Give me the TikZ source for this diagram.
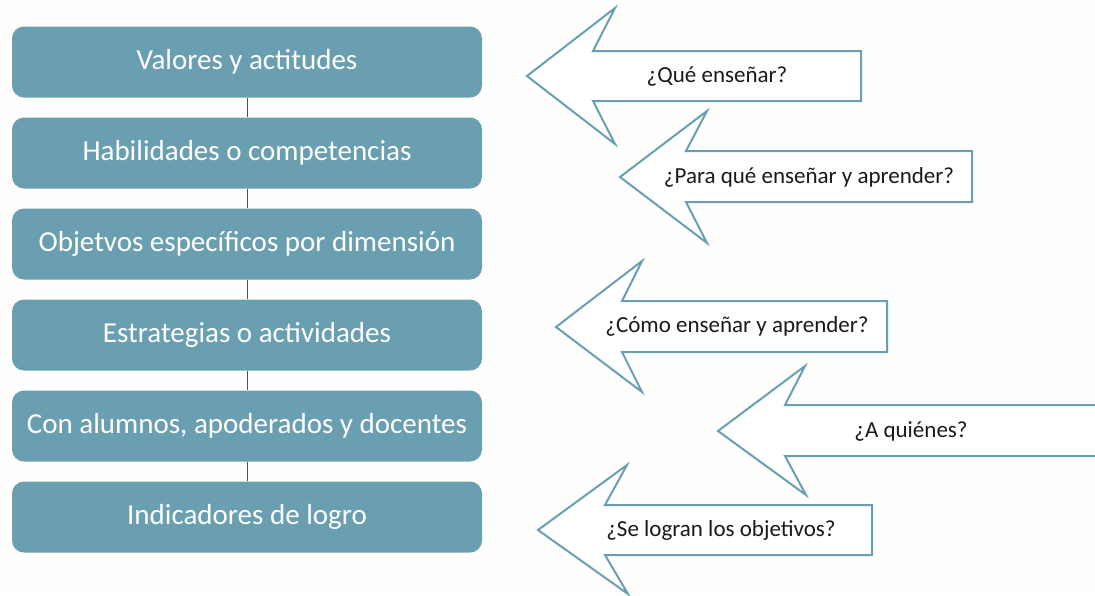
\documentclass[tikz,border=0pt]{standalone}
\usepackage{fontspec}
\setmainfont{Carlito}
\definecolor{boxblue}{HTML}{6A9FB2}
\definecolor{bg}{HTML}{FEFEFC}
\definecolor{linegray}{HTML}{505050}
\definecolor{txt}{HTML}{1A1A1A}
\begin{document}
\begin{tikzpicture}[x=1pt,y=-1pt,
  stepbox/.style={rectangle, rounded corners=12pt, fill=boxblue, draw=none,
    minimum width=470pt, minimum height=71pt, inner sep=0pt,
    text=white, font=\fontsize{29}{34}\selectfont},
  arrowshape/.style={draw=boxblue, line width=2pt, fill=white, line join=miter},
  question/.style={text=txt, font=\fontsize{23}{27}\selectfont, inner sep=0pt},
  link/.style={draw=linegray, line width=1pt}]
\fill[bg] (0,0) rectangle (1095,595);
\useasboundingbox (0,0) rectangle (1095,595);

% boxes
\node[stepbox] (b1) at (247,62)  {Valores y actitudes};
\node[stepbox] (b2) at (247,153) {Habilidades o competencias};
\node[stepbox] (b3) at (247,244) {Objetvos específicos por dimensión};
\node[stepbox] (b4) at (247,335) {Estrategias o actividades};
\node[stepbox] (b5) at (247,426) {Con alumnos, apoderados y docentes};
\node[stepbox] (b6) at (247,517) {Indicadores de logro};

\draw[link] (b1.south) -- (b2.north);
\draw[link] (b2.south) -- (b3.north);
\draw[link] (b3.south) -- (b4.north);
\draw[link] (b4.south) -- (b5.north);
\draw[link] (b5.south) -- (b6.north);

% arrows
\draw[arrowshape] (527,76) -- (615,8) -- (593,51) -- (861,51) -- (861,101) -- (593,101) -- (615,144) -- cycle;
\node[question] (q1) at (717,77) {¿Qué enseñar?};

\draw[arrowshape] (620,177) -- (707,111) -- (686,151) -- (972,151) -- (972,202) -- (686,202) -- (707,243) -- cycle;
\node[question] (q2) at (809,177) {¿Para qué enseñar y aprender?};

\draw[arrowshape] (556,327) -- (642,261) -- (622,301) -- (887,301) -- (887,352) -- (622,352) -- (642,392) -- cycle;
\node[question] (q3) at (737,326) {¿Cómo enseñar y aprender?};

\draw[arrowshape] (718,431) -- (805,366) -- (785,405) -- (1100,405) -- (1100,456) -- (785,456) -- (806,495) -- cycle;
\node[question] (q4) at (911,432) {¿A quiénes?};

\draw[arrowshape] (538,530) -- (627,465) -- (605,505) -- (872,505) -- (872,555) -- (605,555) -- (628,594) -- cycle;
\node[question] (q5) at (721,530) {¿Se logran los objetivos?};
\end{tikzpicture}
\end{document}
